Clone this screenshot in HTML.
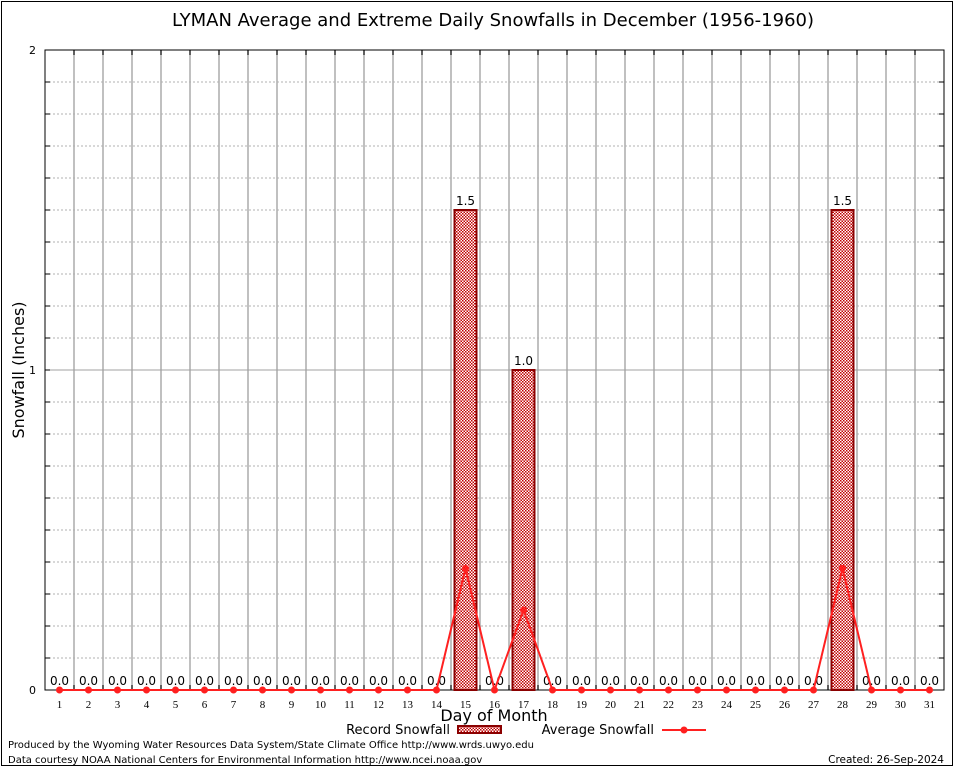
<!DOCTYPE html>
<html><head><meta charset="utf-8"><style>
body{margin:0;background:#fff}
svg{display:block;font-family:"DejaVu Sans","Liberation Sans",sans-serif}
</style></head><body>
<svg id="c" width="954" height="768" xmlns="http://www.w3.org/2000/svg">
<defs><pattern id="chk" width="3" height="3" patternUnits="userSpaceOnUse"><rect width="3" height="3" fill="#fff"/><rect width="1.5" height="1.5" fill="#c00000"/><rect x="1.5" y="1.5" width="1.5" height="1.5" fill="#c00000"/></pattern></defs>
<rect x="1.5" y="1.5" width="951" height="764" fill="none" stroke="#000"/>
<text x="493" y="26" font-size="18" text-anchor="middle">LYMAN Average and Extreme Daily Snowfalls in December (1956-1960)</text>
<g id="grid"></g><g id="marks"></g>
<text transform="translate(24,370) rotate(-90)" font-size="16" text-anchor="middle">Snowfall (Inches)</text>
<text x="494" y="721" font-size="16" text-anchor="middle">Day of Month</text>
<g><text x="450" y="734" font-size="13" text-anchor="end">Record Snowfall</text><rect x="458" y="726" width="43" height="7" fill="url(#chk)" stroke="#8b0000" stroke-width="2"/></g>
<g><text x="654" y="734" font-size="13" text-anchor="end">Average Snowfall</text><line x1="662" y1="730" x2="706" y2="730" stroke="#ff2020" stroke-width="2"/><circle cx="684" cy="730" r="3.5" fill="#ff2020"/></g>
<text x="8" y="748" font-size="10">Produced by the Wyoming Water Resources Data System/State Climate Office http://www.wrds.uwyo.edu</text>
<text x="8" y="763" font-size="10">Data courtesy NOAA National Centers for Environmental Information http://www.ncei.noaa.gov</text>
<text x="944" y="763" font-size="10.5" text-anchor="end">Created: 26-Sep-2024</text>
</svg>
<script>
const days=[1,2,3,4,5,6,7,8,9,10,11,12,13,14,15,16,17,18,19,20,21,22,23,24,25,26,27,28,29,30,31];
const recordVals=[0,0,0,0,0,0,0,0,0,0,0,0,0,0,1.5,0,1.0,0,0,0,0,0,0,0,0,0,0,1.5,0,0,0];
const avgVals=[0,0,0,0,0,0,0,0,0,0,0,0,0,0,0.38,0,0.25,0,0,0,0,0,0,0,0,0,0,0.38,0,0,0];
const yTicks=[0,1,2];
const NS="http://www.w3.org/2000/svg";
const L=45,R=944,T=50,B=690,yMax=2;
const bw=(R-L)/days.length;
const x=d=>L+(d-0.5)*bw;
const y=v=>B-(v/yMax)*(B-T);
function mk(p,t,a){const e=document.createElementNS(NS,t);for(const k in a)e.setAttribute(k,a[k]);p.appendChild(e);return e;}
const g=document.getElementById('grid'),m=document.getElementById('marks');
for(let i=1;i<days.length;i++){const l=mk(g,'line',{x1:L+i*bw,x2:L+i*bw,y1:T,y2:B,stroke:'#c0c0c0','stroke-width':2});


mk(g,'line',{x1:L+i*bw,x2:L+i*bw,y1:T,y2:T+5,stroke:'#000'});mk(g,'line',{x1:L+i*bw,x2:L+i*bw,y1:B,y2:B-5,stroke:'#000'});}
for(let v=0.1;v<yMax-0.01;v+=0.1){const yy=y(v);const solid=Math.abs(v-Math.round(v))<0.01;
const l=mk(g,'line',{x1:L,x2:R,y1:yy,y2:yy,stroke:solid?'#a0a0a0':'#b0b0b0','stroke-dasharray':solid?'':'2,2'});


mk(g,'line',{x1:L,x2:L+5,y1:yy,y2:yy,stroke:'#000'});mk(g,'line',{x1:R,x2:R-5,y1:yy,y2:yy,stroke:'#000'});}
const fr=mk(g,'rect',{x:L,y:T,width:R-L,height:B-T,fill:'none',stroke:'#000'});


yTicks.forEach(v=>{const t=mk(g,'text',{x:L-9,y:y(v)+4,'font-size':11,'text-anchor':'end'});t.textContent=v;

});
days.forEach((d,i)=>{const t=mk(g,'text',{x:x(d),y:B+18,'font-size':11,'text-anchor':'middle','font-family':'Liberation Serif,serif'});t.textContent=d;


const v=recordVals[i];
if(v>0){const r=mk(m,'rect',{x:x(d)-11,y:y(v),width:22,height:B-y(v),fill:'url(#chk)',stroke:'#8b0000','stroke-width':2});

}
const lb=mk(m,'text',{x:x(d),y:y(v)-5,'font-size':12,'text-anchor':'middle'});lb.textContent=v.toFixed(1);

});
const pts=days.map((d,i)=>x(d)+','+y(avgVals[i])).join(' ');
const pl=mk(m,'polyline',{points:pts,fill:'none',stroke:'#ff2020','stroke-width':2});


days.forEach((d,i)=>{const c=mk(m,'circle',{cx:x(d),cy:y(avgVals[i]),r:3.5,fill:'#ff2020'});

});
</script>
</body></html>
